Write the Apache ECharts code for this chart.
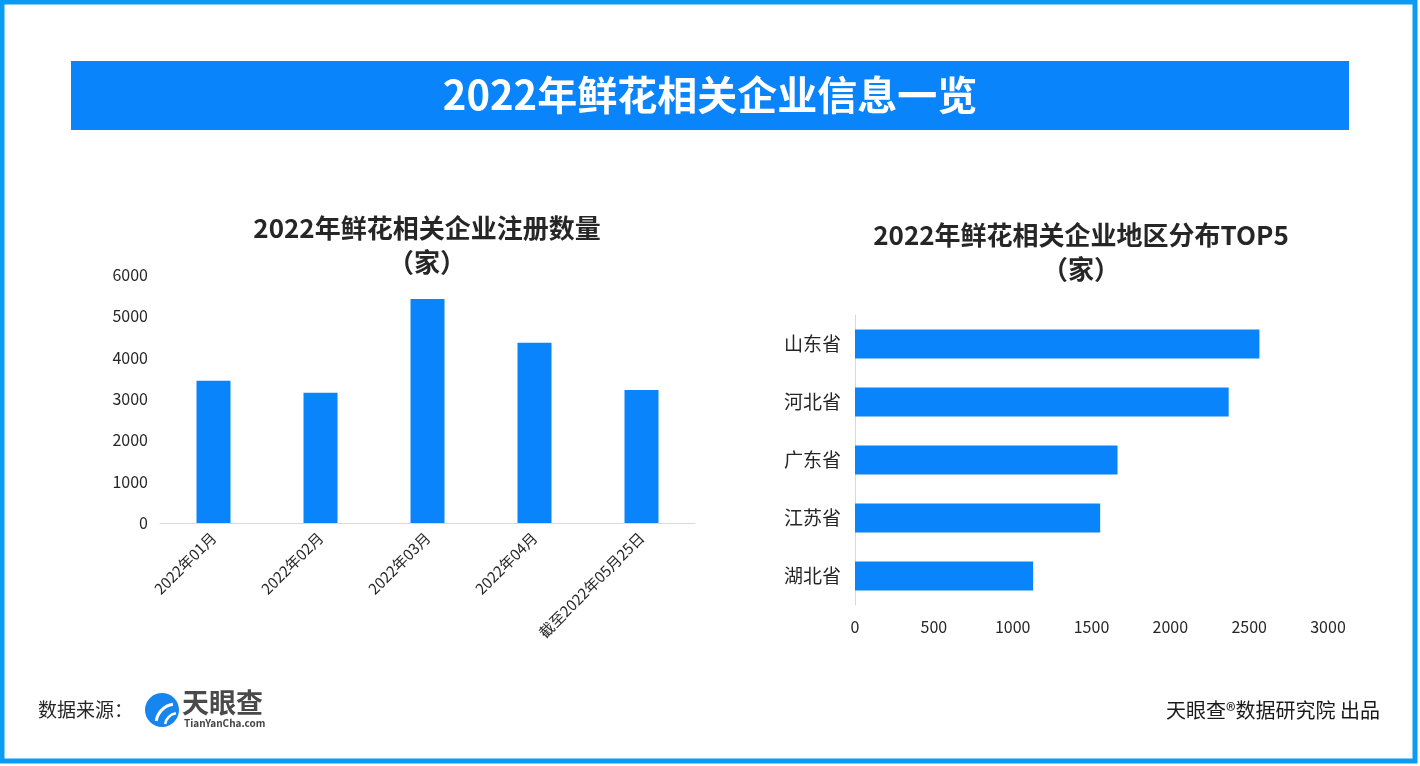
<!DOCTYPE html>
<html>
<head>
<meta charset="utf-8">
<title>2022年鲜花相关企业信息一览</title>
<script src="https://cdn.jsdelivr.net/npm/echarts@6/dist/echarts.min.js"></script>
<style>
    html, body { margin: 0; padding: 0; background: #fff; }
    #main { width: 1420px; height: 766px; }
</style>
</head>
<body>
<div id="main"></div>
<script>
// 注册数量（家）
var monthNames = ['2022年01月', '2022年02月', '2022年03月', '2022年04月', '截至2022年05月25日'];
var monthValues = [3440, 3150, 5420, 4360, 3220];

// 地区分布TOP5（家）
var provinceNames = ['山东省', '河北省', '广东省', '江苏省', '湖北省'];
var provinceValues = [2565, 2370, 1665, 1555, 1130];

var barColor = '#0a84fb';
var fontFamily = '"Noto Sans CJK SC", "Noto Sans", sans-serif';

var myChart = echarts.init(document.getElementById('main'));

// 数字不加千分位
function plain(v) {
    return String(v);
}

var option = {
    backgroundColor: '#fff',
    textStyle: { fontFamily: fontFamily },
    title: [
        {
            text: '2022年鲜花相关企业注册数量\n（家）',
            left: 422,
            top: 206,
            textAlign: 'center',
            textStyle: { color: '#262626', fontSize: 26, fontWeight: 'bold', lineHeight: 34, fontFamily: fontFamily }
        },
        {
            text: '2022年鲜花相关企业地区分布TOP5\n（家）',
            left: 1076,
            top: 213,
            textAlign: 'center',
            textStyle: { color: '#262626', fontSize: 26, fontWeight: 'bold', lineHeight: 34, fontFamily: fontFamily }
        }
    ],
    grid: [
        { left: 160, right: 725, top: 275, bottom: 243, containLabel: false },
        { left: 855, right: 92, top: 315, bottom: 161, containLabel: false }
    ],
    xAxis: [
        {
            type: 'category',
            gridIndex: 0,
            data: monthNames,
            axisLine: { lineStyle: { color: '#d9d9d9' } },
            axisTick: { show: false },
            axisLabel: { rotate: 45, margin: 12, color: '#262626', fontSize: 15, interval: 0 }
        },
        {
            type: 'value',
            gridIndex: 1,
            min: 0,
            max: 3000,
            interval: 500,
            splitLine: { show: false },
            axisLine: { show: false },
            axisTick: { show: false },
            axisLabel: { margin: 14, color: '#262626', fontSize: 16, formatter: plain }
        }
    ],
    yAxis: [
        {
            type: 'value',
            gridIndex: 0,
            min: 0,
            max: 6000,
            interval: 1000,
            splitLine: { show: false },
            axisLine: { show: false },
            axisTick: { show: false },
            axisLabel: { margin: 12, color: '#262626', fontSize: 16, formatter: plain }
        },
        {
            type: 'category',
            gridIndex: 1,
            inverse: true,
            data: provinceNames,
            axisLine: { lineStyle: { color: '#d9d9d9' } },
            axisTick: { show: false },
            axisLabel: { margin: 14, color: '#262626', fontSize: 19 }
        }
    ],
    series: [
        {
            type: 'bar',
            xAxisIndex: 0,
            yAxisIndex: 0,
            data: monthValues,
            barWidth: 34,
            itemStyle: { color: barColor }
        },
        {
            type: 'bar',
            xAxisIndex: 1,
            yAxisIndex: 1,
            data: provinceValues,
            barWidth: 29,
            itemStyle: { color: barColor }
        }
    ],
    graphic: [
        // 外框
        {
            type: 'rect',
            shape: { x: 2, y: 2, width: 1413, height: 759 },
            style: { fill: 'none', stroke: '#0b9bf2', lineWidth: 5 },
            silent: true
        },
        // 大标题
        {
            type: 'rect',
            shape: { x: 71, y: 61, width: 1278, height: 69 },
            style: { fill: barColor }
        },
        {
            type: 'text',
            x: 710,
            y: 95,
            style: {
                text: '2022年鲜花相关企业信息一览',
                fill: '#fff',
                font: 'bold 40px ' + fontFamily,
                textAlign: 'center',
                textVerticalAlign: 'middle'
            }
        },
        // 数据来源
        {
            type: 'text',
            x: 38,
            y: 710,
            style: {
                text: '数据来源：',
                fill: '#262626',
                font: '19px ' + fontFamily,
                textVerticalAlign: 'middle'
            }
        },
        // logo
        {
            type: 'circle',
            shape: { cx: 162, cy: 710, r: 17 },
            style: { fill: '#1686ee' }
        },
        {
            type: 'arc',
            shape: { cx: 176, cy: 724, r: 20, startAngle: Math.PI * 1.05, endAngle: Math.PI * 1.45 },
            style: { stroke: '#fff', lineWidth: 3, fill: 'none' }
        },
        {
            type: 'arc',
            shape: { cx: 178, cy: 726, r: 13, startAngle: Math.PI * 1.05, endAngle: Math.PI * 1.45 },
            style: { stroke: '#fff', lineWidth: 2.5, fill: 'none' }
        },
        {
            type: 'text',
            x: 182,
            y: 703,
            style: {
                text: '天眼查',
                fill: '#4a4a4a',
                font: 'bold 27px ' + fontFamily,
                textVerticalAlign: 'middle'
            }
        },
        {
            type: 'text',
            x: 184,
            y: 723,
            style: {
                text: 'TianYanCha.com',
                fill: '#444',
                font: 'bold 10px ' + fontFamily,
                textVerticalAlign: 'middle'
            }
        },
        // 出品
        {
            type: 'text',
            x: 1380,
            y: 710,
            style: {
                text: '天眼查®数据研究院 出品',
                fill: '#1a1a1a',
                font: '20px ' + fontFamily,
                textAlign: 'right',
                textVerticalAlign: 'middle'
            }
        }
    ]
};

myChart.setOption(option);
</script>
</body>
</html>
